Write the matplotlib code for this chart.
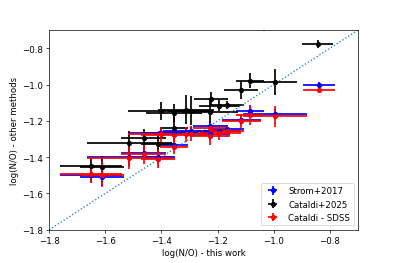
import matplotlib
matplotlib.use("Agg")
import matplotlib.pyplot as plt
import numpy as np

# Cataldi+2025 (black)
blk_x = [-0.844, -0.996, -1.086, -1.116, -1.165, -1.195, -1.224, -1.228, -1.295, -1.313, -1.354, -1.401, -1.354, -1.413, -1.463, -1.514, -1.612, -1.652]
blk_y = [-0.776, -0.986, -0.978, -1.028, -1.112, -1.116, -1.079, -1.152, -1.143, -1.138, -1.155, -1.147, -1.240, -1.327, -1.296, -1.324, -1.452, -1.446]
blk_xe = [0.057, 0.08, 0.05, 0.06, 0.06, 0.07, 0.06, 0.10, 0.08, 0.10, 0.10, 0.12, 0.05, 0.06, 0.08, 0.15, 0.08, 0.11]
blk_ye = [0.02, 0.07, 0.04, 0.05, 0.02, 0.03, 0.04, 0.06, 0.08, 0.08, 0.05, 0.05, 0.08, 0.05, 0.05, 0.07, 0.06, 0.04]

# Cataldi - SDSS (red)
red_x = [-0.838, -0.996, -1.086, -1.116, -1.165, -1.195, -1.227, -1.227, -1.295, -1.313, -1.354, -1.401, -1.354, -1.413, -1.463, -1.514, -1.612, -1.652, -1.035]
red_y = [-1.028, -1.175, -1.167, -1.202, -1.257, -1.266, -1.240, -1.285, -1.270, -1.275, -1.280, -1.275, -1.342, -1.409, -1.385, -1.406, -1.496, -1.492, -0.66]
red_xe = [0.058, 0.115, 0.05, 0.07, 0.06, 0.08, 0.06, 0.07, 0.10, 0.10, 0.12, 0.12, 0.05, 0.06, 0.08, 0.15, 0.08, 0.11, 0.05]
red_ye = [0.015, 0.058, 0.055, 0.04, 0.03, 0.04, 0.03, 0.05, 0.04, 0.04, 0.04, 0.04, 0.04, 0.05, 0.05, 0.06, 0.07, 0.05, 0.045]

# Strom+2017 (blue)
blu_x = [-0.838, -0.996, -1.086, -1.116, -1.165, -1.195, -1.227, -1.227, -1.295, -1.313, -1.354, -1.401, -1.354, -1.413, -1.463, -1.514, -1.612, -1.652]
blu_y = [-1.002, -1.162, -1.143, -1.193, -1.245, -1.255, -1.228, -1.275, -1.258, -1.262, -1.268, -1.265, -1.332, -1.398, -1.378, -1.398, -1.507, -1.501]
blu_xe = [0.058, 0.115, 0.05, 0.07, 0.06, 0.08, 0.06, 0.07, 0.10, 0.10, 0.12, 0.12, 0.05, 0.06, 0.08, 0.15, 0.08, 0.11]
blu_ye = [0.015, 0.03, 0.03, 0.03, 0.02, 0.03, 0.02, 0.03, 0.03, 0.03, 0.03, 0.03, 0.03, 0.04, 0.04, 0.05, 0.05, 0.04]

fig = plt.figure(figsize=(6.4, 4.258), dpi=62)
ax = fig.add_axes([0.124, 0.126, 0.778, 0.756])

ax.errorbar(blu_x, blu_y, xerr=blu_xe, yerr=blu_ye, fmt='o', color='blue', ms=5, lw=2, label='Strom+2017')
ax.errorbar(blk_x, blk_y, xerr=blk_xe, yerr=blk_ye, fmt='o', color='black', ms=5, lw=2, label='Cataldi+2025')
ax.errorbar(red_x, red_y, xerr=red_xe, yerr=red_ye, fmt='o', color='red', ms=5, lw=2, label='Cataldi - SDSS')

ax.plot([-1.8, -0.7], [-1.8, -0.7], ':', color='C0', lw=1.5)

ax.set_xlim(-1.8, -0.7)
ax.set_ylim(-1.8, -0.7)
ax.set_xticks([-1.8, -1.6, -1.4, -1.2, -1.0, -0.8])
ax.set_yticks([-1.8, -1.6, -1.4, -1.2, -1.0, -0.8])
ax.set_xlabel('log(N/O) - this work')
ax.set_ylabel('log(N/O) - other methods')
ax.legend(loc='lower right')

fig.savefig('out.png', dpi=62)
